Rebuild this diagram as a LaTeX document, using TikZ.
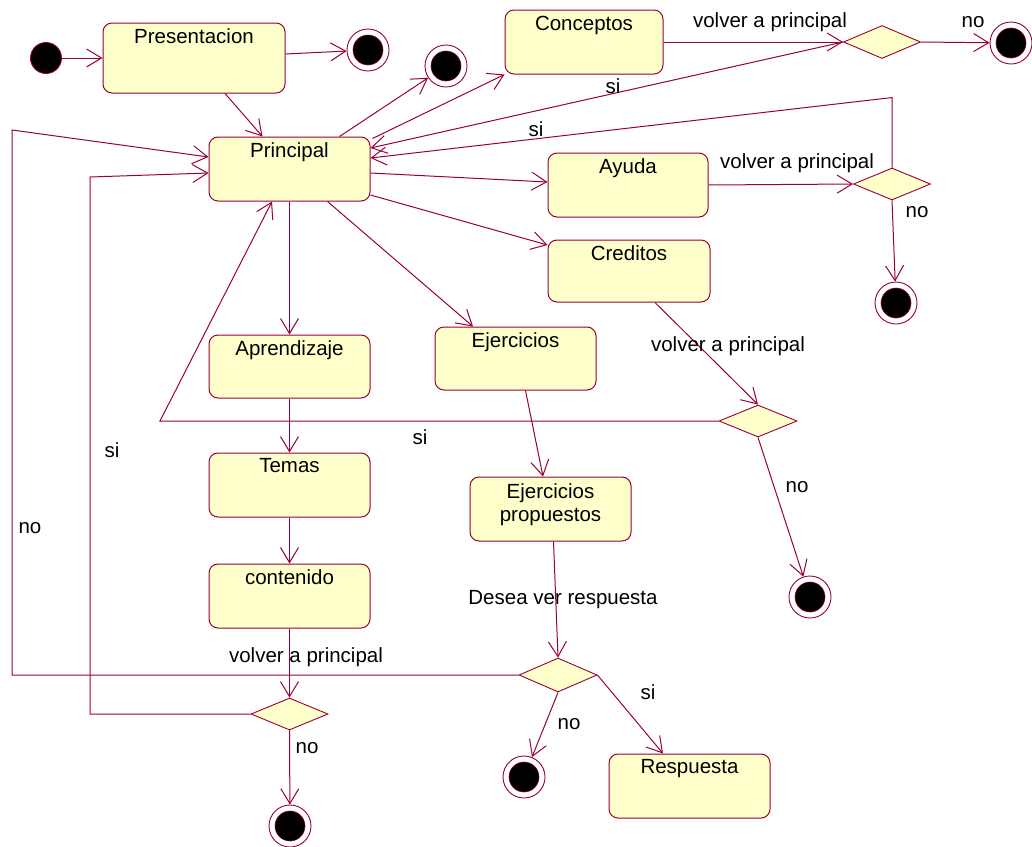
\documentclass[tikz,border=0pt]{standalone}
\usepackage{fontspec}
\setmainfont{Liberation Sans}
\usetikzlibrary{arrows.meta,shapes.geometric}
\definecolor{linec}{RGB}{153,0,51}
\definecolor{statefill}{RGB}{255,255,204}

\begin{document}
\begin{tikzpicture}[x=1pt,y=-1pt,
  font=\fontsize{20.5}{23}\selectfont,
  state/.style={rectangle, rounded corners=9pt, draw=linec, fill=statefill,
    line width=1pt, minimum width=161pt, minimum height=64pt, inner sep=0pt},
  stt/.style={anchor=north, inner sep=0pt, align=center},
  choice/.style={diamond, draw=linec, fill=statefill, line width=0.9pt,
    minimum width=77pt, minimum height=33pt, inner sep=0pt},
  initst/.style={circle, draw=linec, fill=black, line width=0.9pt,
    minimum size=31pt, inner sep=0pt},
  finalst/.style={circle, draw=linec, fill=white, line width=0.9pt,
    minimum size=42pt, inner sep=0pt,
    path picture={\filldraw[fill=black, draw=linec, line width=0.6pt]
      (path picture bounding box.center) circle (15pt);}},
  flow/.style={draw=linec, line width=1pt,
    -{Straight Barb[length=15pt,width=18pt,line width=1pt]}},
  lbl/.style={inner sep=0pt, text=black}
]
\useasboundingbox (0,0) rectangle (1032,846);

% start and end states
\node[initst]  (init) at (46,58) {};
\node[finalst] (fin1) at (368,50) {};
\node[finalst] (fin2) at (446,66) {};
\node[finalst] (fin3) at (1011,43) {};
\node[finalst] (fin4) at (896,303) {};
\node[finalst] (fin5) at (810,597) {};
\node[finalst] (fin6) at (290,826) {};
\node[finalst] (fin7) at (524,777) {};

% activity states
\node[state, minimum width=182pt, minimum height=70pt] (pres) at (194,58) {};
\node[state] (prin)  at (289.5,169) {};
\node[state, minimum width=158pt] (conc) at (584,42) {};
\node[state, minimum width=160pt] (ayuda) at (628,185) {};
\node[state, minimum width=162pt, minimum height=62pt] (cred) at (629,271) {};
\node[state, minimum height=63pt] (apr)  at (289.5,366.5) {};
\node[state, minimum height=63pt] (ejer) at (515.5,358.5) {};
\node[state] (temas) at (289.5,485) {};
\node[state] (cont)  at (289.5,596) {};
\node[state] (ejp)   at (550.5,509) {};
\node[state] (resp)  at (689.5,786) {};

% state names
\node[stt] (presT)  at ([yshift=-6pt]pres.north)  {Presentacion};
\node[stt] (prinT)  at ([yshift=-6pt]prin.north)  {Principal};
\node[stt] (concT)  at ([yshift=-6pt]conc.north)  {Conceptos};
\node[stt] (ayudaT) at ([yshift=-6pt]ayuda.north) {Ayuda};
\node[stt] (credT)  at ([yshift=-6pt]cred.north)  {Creditos};
\node[stt] (aprT)   at ([yshift=-6pt]apr.north)   {Aprendizaje};
\node[stt] (ejerT)  at ([yshift=-6pt]ejer.north)  {Ejercicios};
\node[stt] (temasT) at ([yshift=-6pt]temas.north) {Temas};
\node[stt] (contT)  at ([yshift=-6pt]cont.north)  {contenido};
\node[stt] (ejpT)   at ([yshift=-7pt]ejp.north)   {Ejercicios\\propuestos};
\node[stt] (respT)  at ([yshift=-6pt]resp.north)  {Respuesta};

% decisions
\node[choice] (dia1) at (882,42) {};
\node[choice, minimum height=32pt] (dia2) at (892,184) {};
\node[choice, minimum width=78pt, minimum height=32pt] (dia3) at (758,421) {};
\node[choice, minimum height=32pt] (dia4) at (289.5,714) {};
\node[choice, minimum width=78pt, minimum height=34pt] (dia5) at (558,675) {};

% bend points of the return paths
\coordinate (b3)  at (160,421);
\coordinate (b4)  at (90,177);
\coordinate (b5)  at (12,130);

% transitions
\draw[flow] (init) -- (pres);
\draw[flow] ([yshift=4pt]pres.east) -- (fin1);
\draw[flow] ([xshift=31pt]pres.south) -- ([xshift=-27pt]prin.north);
\draw[flow] ([xshift=50pt]prin.north) -- (fin2);
\draw[flow] ([xshift=2pt,yshift=-2pt]prin.north east) -- (conc.south west);
\draw[flow] (conc.east) -- (dia1.west);
\draw[flow] (dia1.east) -- (fin3);
\draw[flow] (dia1.west) -- ([yshift=21pt]prin.east);
\draw[flow] (dia2.north) -- ++(0,-70) -- ([yshift=11pt]prin.east);
\draw[flow] ([yshift=-4pt]prin.east) -- ([yshift=3pt]ayuda.west);
\draw[flow] (ayuda.east) -- (dia2.west);
\draw[flow] (dia2.south) -- (fin4);
\draw[flow] ([yshift=-26pt]prin.east) -- ([yshift=26pt]cred.west);
\draw[flow] ([xshift=26pt]cred.south) -- (dia3.north);
\draw[flow] (dia3.west) -- (b3) -- ([xshift=-17.5pt]prin.south);
\draw[flow] (dia3.south) -- (fin5);
\draw[flow] (prin.south) -- (apr.north);
\draw[flow] ([xshift=38pt]prin.south) -- ([xshift=-42.5pt]ejer.north);
\draw[flow] (apr.south) -- (temas.north);
\draw[flow] (temas.south) -- (cont.north);
\draw[flow] (cont.south) -- (dia4.north);
\draw[flow] (dia4.west) -| (b4) -- ([yshift=-4pt]prin.west);
\draw[flow] (dia4.south) -- (fin6);
\draw[flow] ([xshift=10pt]ejer.south) -- ([xshift=-7.5pt]ejp.north);
\draw[flow] ([xshift=3pt]ejp.south) -- (dia5.north);
\draw[flow] (dia5.west) -| (b5) -- ([yshift=12pt]prin.west);
\draw[flow] (dia5.south) -- (fin7);
\draw[flow] (dia5.east) -- ([xshift=-26.5pt]resp.north);

% guard and event labels
\node[lbl] (l1)  at (770,22)  {volver a principal};
\node[lbl] (l2)  at (973,22)  {no};
\node[lbl] (l3)  at (613,86)  {si};
\node[lbl] (l4)  at (536,129) {si};
\node[lbl] (l5)  at (797,163) {volver a principal};
\node[lbl] (l6)  at (917,212) {no};
\node[lbl] (l7)  at (728,346) {volver a principal};
\node[lbl] (l8)  at (420,437) {si};
\node[lbl] (l9)  at (797,487) {no};
\node[lbl] (l10) at (112,450) {si};
\node[lbl] (l11) at (30,528)  {no};
\node[lbl] (l12) at (306,657) {volver a principal};
\node[lbl] (l13) at (307,748) {no};
\node[lbl] (l14) at (563,600) {Desea ver respuesta};
\node[lbl] (l15) at (648,692) {si};
\node[lbl] (l16) at (569,724) {no};
\end{tikzpicture}
\end{document}
